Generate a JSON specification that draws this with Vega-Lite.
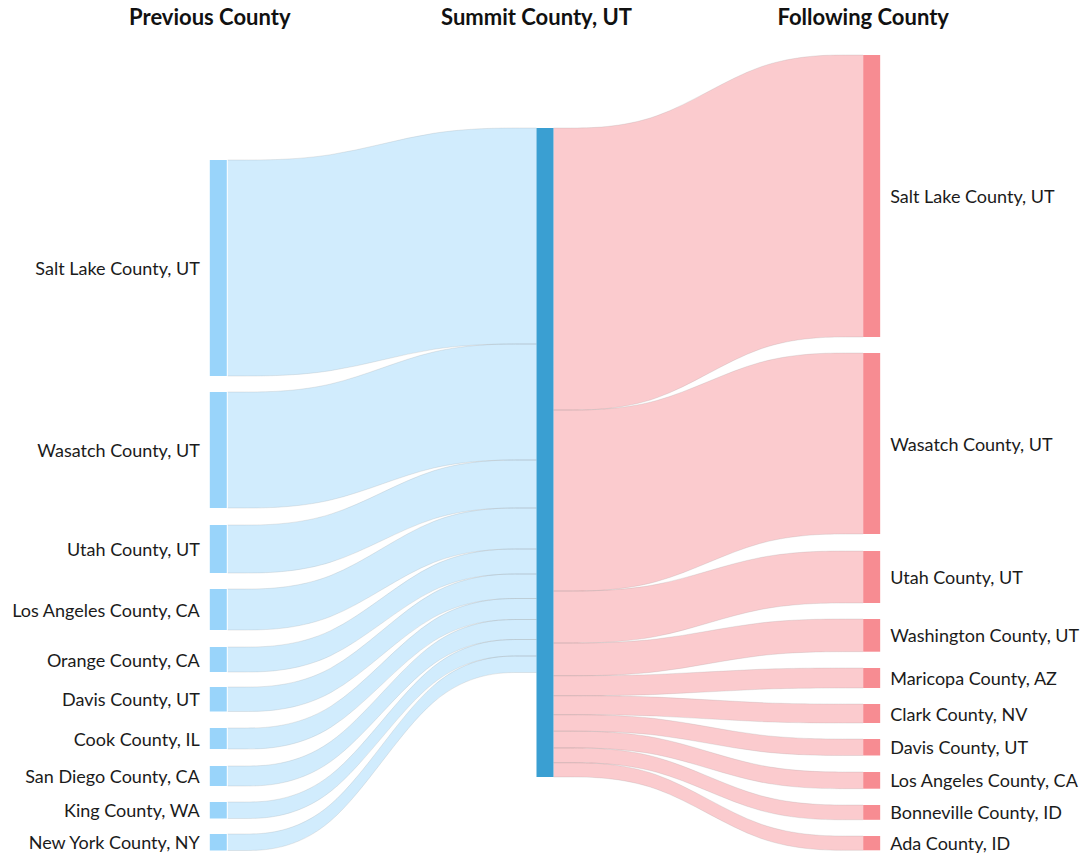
{
  "$schema": "https://vega.github.io/schema/vega-lite/v6.json",
  "width": 1080,
  "height": 857,
  "autosize": {"type": "fit", "contains": "padding"},
  "padding": 0,
  "background": "white",
  "config": {"view": {"stroke": null}, "font": "Lato"},
  "datasets": {
    "links": [
      {"side": "in", "county": "Salt Lake County, UT", "pt": 0, "y0": 160, "y1": 376},
      {"side": "in", "county": "Salt Lake County, UT", "pt": 1, "y0": 160, "y1": 376},
      {"side": "in", "county": "Salt Lake County, UT", "pt": 2, "y0": 128, "y1": 344},
      {"side": "in", "county": "Salt Lake County, UT", "pt": 3, "y0": 128, "y1": 344},
      {"side": "in", "county": "Wasatch County, UT", "pt": 0, "y0": 392, "y1": 508},
      {"side": "in", "county": "Wasatch County, UT", "pt": 1, "y0": 392, "y1": 508},
      {"side": "in", "county": "Wasatch County, UT", "pt": 2, "y0": 344, "y1": 460},
      {"side": "in", "county": "Wasatch County, UT", "pt": 3, "y0": 344, "y1": 460},
      {"side": "in", "county": "Utah County, UT", "pt": 0, "y0": 525, "y1": 573},
      {"side": "in", "county": "Utah County, UT", "pt": 1, "y0": 525, "y1": 573},
      {"side": "in", "county": "Utah County, UT", "pt": 2, "y0": 460, "y1": 508},
      {"side": "in", "county": "Utah County, UT", "pt": 3, "y0": 460, "y1": 508},
      {"side": "in", "county": "Los Angeles County, CA", "pt": 0, "y0": 589, "y1": 630},
      {"side": "in", "county": "Los Angeles County, CA", "pt": 1, "y0": 589, "y1": 630},
      {"side": "in", "county": "Los Angeles County, CA", "pt": 2, "y0": 508, "y1": 549},
      {"side": "in", "county": "Los Angeles County, CA", "pt": 3, "y0": 508, "y1": 549},
      {"side": "in", "county": "Orange County, CA", "pt": 0, "y0": 647, "y1": 672},
      {"side": "in", "county": "Orange County, CA", "pt": 1, "y0": 647, "y1": 672},
      {"side": "in", "county": "Orange County, CA", "pt": 2, "y0": 549, "y1": 574},
      {"side": "in", "county": "Orange County, CA", "pt": 3, "y0": 549, "y1": 574},
      {"side": "in", "county": "Davis County, UT", "pt": 0, "y0": 687, "y1": 711.5},
      {"side": "in", "county": "Davis County, UT", "pt": 1, "y0": 687, "y1": 711.5},
      {"side": "in", "county": "Davis County, UT", "pt": 2, "y0": 574, "y1": 598.5},
      {"side": "in", "county": "Davis County, UT", "pt": 3, "y0": 574, "y1": 598.5},
      {"side": "in", "county": "Cook County, IL", "pt": 0, "y0": 728, "y1": 749},
      {"side": "in", "county": "Cook County, IL", "pt": 1, "y0": 728, "y1": 749},
      {"side": "in", "county": "Cook County, IL", "pt": 2, "y0": 598.5, "y1": 619.5},
      {"side": "in", "county": "Cook County, IL", "pt": 3, "y0": 598.5, "y1": 619.5},
      {"side": "in", "county": "San Diego County, CA", "pt": 0, "y0": 766, "y1": 786},
      {"side": "in", "county": "San Diego County, CA", "pt": 1, "y0": 766, "y1": 786},
      {"side": "in", "county": "San Diego County, CA", "pt": 2, "y0": 619.5, "y1": 639.5},
      {"side": "in", "county": "San Diego County, CA", "pt": 3, "y0": 619.5, "y1": 639.5},
      {"side": "in", "county": "King County, WA", "pt": 0, "y0": 802, "y1": 818.5},
      {"side": "in", "county": "King County, WA", "pt": 1, "y0": 802, "y1": 818.5},
      {"side": "in", "county": "King County, WA", "pt": 2, "y0": 639.5, "y1": 656},
      {"side": "in", "county": "King County, WA", "pt": 3, "y0": 639.5, "y1": 656},
      {"side": "in", "county": "New York County, NY", "pt": 0, "y0": 834, "y1": 850.5},
      {"side": "in", "county": "New York County, NY", "pt": 1, "y0": 834, "y1": 850.5},
      {"side": "in", "county": "New York County, NY", "pt": 2, "y0": 656, "y1": 672.5},
      {"side": "in", "county": "New York County, NY", "pt": 3, "y0": 656, "y1": 672.5},
      {"side": "out", "county": "Salt Lake County, UT", "pt": 0, "y0": 128, "y1": 410},
      {"side": "out", "county": "Salt Lake County, UT", "pt": 1, "y0": 128, "y1": 410},
      {"side": "out", "county": "Salt Lake County, UT", "pt": 2, "y0": 55, "y1": 337},
      {"side": "out", "county": "Salt Lake County, UT", "pt": 3, "y0": 55, "y1": 337},
      {"side": "out", "county": "Wasatch County, UT", "pt": 0, "y0": 410, "y1": 591},
      {"side": "out", "county": "Wasatch County, UT", "pt": 1, "y0": 410, "y1": 591},
      {"side": "out", "county": "Wasatch County, UT", "pt": 2, "y0": 353, "y1": 534},
      {"side": "out", "county": "Wasatch County, UT", "pt": 3, "y0": 353, "y1": 534},
      {"side": "out", "county": "Utah County, UT", "pt": 0, "y0": 591, "y1": 643},
      {"side": "out", "county": "Utah County, UT", "pt": 1, "y0": 591, "y1": 643},
      {"side": "out", "county": "Utah County, UT", "pt": 2, "y0": 551, "y1": 603},
      {"side": "out", "county": "Utah County, UT", "pt": 3, "y0": 551, "y1": 603},
      {"side": "out", "county": "Washington County, UT", "pt": 0, "y0": 643, "y1": 675.7},
      {"side": "out", "county": "Washington County, UT", "pt": 1, "y0": 643, "y1": 675.7},
      {"side": "out", "county": "Washington County, UT", "pt": 2, "y0": 619, "y1": 651.7},
      {"side": "out", "county": "Washington County, UT", "pt": 3, "y0": 619, "y1": 651.7},
      {"side": "out", "county": "Maricopa County, AZ", "pt": 0, "y0": 675.7, "y1": 695.7},
      {"side": "out", "county": "Maricopa County, AZ", "pt": 1, "y0": 675.7, "y1": 695.7},
      {"side": "out", "county": "Maricopa County, AZ", "pt": 2, "y0": 668, "y1": 688},
      {"side": "out", "county": "Maricopa County, AZ", "pt": 3, "y0": 668, "y1": 688},
      {"side": "out", "county": "Clark County, NV", "pt": 0, "y0": 695.7, "y1": 714.7},
      {"side": "out", "county": "Clark County, NV", "pt": 1, "y0": 695.7, "y1": 714.7},
      {"side": "out", "county": "Clark County, NV", "pt": 2, "y0": 704, "y1": 723},
      {"side": "out", "county": "Clark County, NV", "pt": 3, "y0": 704, "y1": 723},
      {"side": "out", "county": "Davis County, UT", "pt": 0, "y0": 714.7, "y1": 731.2},
      {"side": "out", "county": "Davis County, UT", "pt": 1, "y0": 714.7, "y1": 731.2},
      {"side": "out", "county": "Davis County, UT", "pt": 2, "y0": 739, "y1": 755.5},
      {"side": "out", "county": "Davis County, UT", "pt": 3, "y0": 739, "y1": 755.5},
      {"side": "out", "county": "Los Angeles County, CA", "pt": 0, "y0": 731.2, "y1": 747.9},
      {"side": "out", "county": "Los Angeles County, CA", "pt": 1, "y0": 731.2, "y1": 747.9},
      {"side": "out", "county": "Los Angeles County, CA", "pt": 2, "y0": 772, "y1": 788.7},
      {"side": "out", "county": "Los Angeles County, CA", "pt": 3, "y0": 772, "y1": 788.7},
      {"side": "out", "county": "Bonneville County, ID", "pt": 0, "y0": 747.9, "y1": 762.7},
      {"side": "out", "county": "Bonneville County, ID", "pt": 1, "y0": 747.9, "y1": 762.7},
      {"side": "out", "county": "Bonneville County, ID", "pt": 2, "y0": 805, "y1": 819.8},
      {"side": "out", "county": "Bonneville County, ID", "pt": 3, "y0": 805, "y1": 819.8},
      {"side": "out", "county": "Ada County, ID", "pt": 0, "y0": 762.7, "y1": 777},
      {"side": "out", "county": "Ada County, ID", "pt": 1, "y0": 762.7, "y1": 777},
      {"side": "out", "county": "Ada County, ID", "pt": 2, "y0": 836, "y1": 850.3},
      {"side": "out", "county": "Ada County, ID", "pt": 3, "y0": 836, "y1": 850.3}
    ],
    "nodes": [
      {"stage": 0, "county": "Salt Lake County, UT", "y0": 160, "y1": 376},
      {"stage": 0, "county": "Wasatch County, UT", "y0": 392, "y1": 508},
      {"stage": 0, "county": "Utah County, UT", "y0": 525, "y1": 573},
      {"stage": 0, "county": "Los Angeles County, CA", "y0": 589, "y1": 630},
      {"stage": 0, "county": "Orange County, CA", "y0": 647, "y1": 672},
      {"stage": 0, "county": "Davis County, UT", "y0": 687, "y1": 711.5},
      {"stage": 0, "county": "Cook County, IL", "y0": 728, "y1": 749},
      {"stage": 0, "county": "San Diego County, CA", "y0": 766, "y1": 786},
      {"stage": 0, "county": "King County, WA", "y0": 802, "y1": 818.5},
      {"stage": 0, "county": "New York County, NY", "y0": 834, "y1": 850.5},
      {"stage": 1, "county": "Summit County, UT", "y0": 128, "y1": 777},
      {"stage": 2, "county": "Salt Lake County, UT", "y0": 55, "y1": 337},
      {"stage": 2, "county": "Wasatch County, UT", "y0": 353, "y1": 534},
      {"stage": 2, "county": "Utah County, UT", "y0": 551, "y1": 603},
      {"stage": 2, "county": "Washington County, UT", "y0": 619, "y1": 651.7},
      {"stage": 2, "county": "Maricopa County, AZ", "y0": 668, "y1": 688},
      {"stage": 2, "county": "Clark County, NV", "y0": 704, "y1": 723},
      {"stage": 2, "county": "Davis County, UT", "y0": 739, "y1": 755.5},
      {"stage": 2, "county": "Los Angeles County, CA", "y0": 772, "y1": 788.7},
      {"stage": 2, "county": "Bonneville County, ID", "y0": 805, "y1": 819.8},
      {"stage": 2, "county": "Ada County, ID", "y0": 836, "y1": 850.3}
    ],
    "headers": [
      {"stage": 0, "title": "Previous County"},
      {"stage": 1, "title": "Summit County, UT"},
      {"stage": 2, "title": "Following County"}
    ]
  },
  "layer": [
    {
      "data": {"name": "links"},
      "transform": [
        {"filter": "datum.side == 'in'"},
        {"calculate": "0.055 + datum.pt * 0.945 / 3", "as": "xpos"}
      ],
      "mark": {"type": "area", "interpolate": "basis", "color": "#99D4FA", "fillOpacity": 0.45},
      "encoding": {
        "x": {"field": "xpos", "type": "quantitative", "scale": {"domain": [-0.6422, 2.6606], "nice": false, "zero": false}, "axis": null},
        "y": {"field": "y0", "type": "quantitative", "scale": {"domain": [0, 857], "reverse": true, "nice": false, "zero": false}, "axis": null},
        "y2": {"field": "y1"},
        "detail": {"field": "county"}
      }
    },
    {
      "data": {"name": "links"},
      "transform": [
        {"filter": "datum.side == 'out'"},
        {"calculate": "1.052 + datum.pt * 0.948 / 3", "as": "xpos"}
      ],
      "mark": {"type": "area", "interpolate": "basis", "color": "#F78C92", "fillOpacity": 0.45},
      "encoding": {
        "x": {"field": "xpos", "type": "quantitative"},
        "y": {"field": "y0", "type": "quantitative"},
        "y2": {"field": "y1"},
        "detail": {"field": "county"}
      }
    },
    {
      "data": {"name": "links"},
      "transform": [
        {"calculate": "datum.side == 'in' ? 0.055 + datum.pt * 0.945 / 3 : 1.052 + datum.pt * 0.948 / 3", "as": "xpos"}
      ],
      "mark": {"type": "line", "interpolate": "basis", "color": "#8a8a8a", "strokeWidth": 1, "opacity": 0.18},
      "encoding": {
        "x": {"field": "xpos", "type": "quantitative"},
        "y": {"field": "y0", "type": "quantitative"},
        "detail": [{"field": "side"}, {"field": "county"}],
        "order": {"field": "pt", "type": "quantitative"}
      }
    },
    {
      "data": {"name": "links"},
      "transform": [
        {"calculate": "datum.side == 'in' ? 0.055 + datum.pt * 0.945 / 3 : 1.052 + datum.pt * 0.948 / 3", "as": "xpos"}
      ],
      "mark": {"type": "line", "interpolate": "basis", "color": "#8a8a8a", "strokeWidth": 1, "opacity": 0.18},
      "encoding": {
        "x": {"field": "xpos", "type": "quantitative"},
        "y": {"field": "y1", "type": "quantitative"},
        "detail": [{"field": "side"}, {"field": "county"}],
        "order": {"field": "pt", "type": "quantitative"}
      }
    },
    {
      "data": {"name": "nodes"},
      "transform": [{"calculate": "datum.stage + 0.052", "as": "xend"}],
      "mark": {"type": "rect"},
      "encoding": {
        "x": {"field": "stage", "type": "quantitative"},
        "x2": {"field": "xend"},
        "y": {"field": "y0", "type": "quantitative"},
        "y2": {"field": "y1"},
        "color": {"field": "stage", "type": "nominal", "scale": {"domain": [0, 1, 2], "range": ["#99D4FA", "#3A9FD2", "#F78C92"]}, "legend": null}
      }
    },
    {
      "data": {"name": "nodes"},
      "transform": [{"filter": "datum.stage == 0"}, {"calculate": "(datum.y0 + datum.y1) / 2", "as": "ym"}],
      "mark": {"type": "text", "align": "right", "baseline": "middle", "dx": -10, "dy": 2, "fontSize": 18, "font": "Lato", "color": "#1b1b1b"},
      "encoding": {
        "x": {"field": "stage", "type": "quantitative"},
        "y": {"field": "ym", "type": "quantitative"},
        "text": {"field": "county"}
      }
    },
    {
      "data": {"name": "nodes"},
      "transform": [{"filter": "datum.stage == 2"}, {"calculate": "(datum.y0 + datum.y1) / 2", "as": "ym"}],
      "mark": {"type": "text", "align": "left", "baseline": "middle", "dx": 27, "dy": 2, "fontSize": 18, "font": "Lato", "color": "#1b1b1b"},
      "encoding": {
        "x": {"field": "stage", "type": "quantitative"},
        "y": {"field": "ym", "type": "quantitative"},
        "text": {"field": "county"}
      }
    },
    {
      "data": {"name": "headers"},
      "mark": {"type": "text", "align": "center", "baseline": "alphabetic", "fontSize": 22, "fontWeight": "bold", "font": "Lato", "color": "#111111"},
      "encoding": {
        "x": {"field": "stage", "type": "quantitative"},
        "y": {"datum": 25},
        "text": {"field": "title"}
      }
    }
  ]
}
